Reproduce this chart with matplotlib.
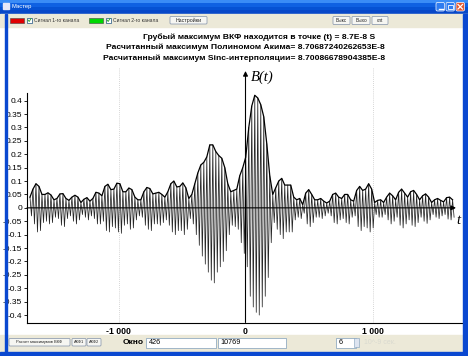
import matplotlib
matplotlib.use('Agg')
import matplotlib.pyplot as plt
from matplotlib.patches import Rectangle, FancyBboxPatch
import numpy as np

W, H, DPI = 468, 356, 100

# ---------------- data ----------------
t_start = -1697.0
t_step = 23.6
peak_hi = [0.04, 0.07, 0.09, 0.08, 0.05, 0.05, 0.056, 0.048, 0.03, 0.035,
           0.052, 0.053, 0.035, 0.028, 0.04, 0.047, 0.04, 0.02, 0.032, 0.038,
           0.025, 0.035, 0.058, 0.055, 0.045, 0.08, 0.088, 0.068, 0.07, 0.092,
           0.09, 0.06, 0.06, 0.074, 0.068, 0.04, 0.03, 0.03, 0.06, 0.076,
           0.072, 0.052, 0.055, 0.058, 0.05, 0.04, 0.06, 0.09, 0.10, 0.078,
           0.08, 0.093, 0.075, 0.035, 0.05, 0.09, 0.13, 0.16, 0.17, 0.19,
           0.235, 0.235, 0.21, 0.195, 0.185, 0.15, 0.09, 0.06, 0.065, 0.07,
           0.12, 0.15, 0.19, 0.30, 0.38, 0.42, 0.41, 0.385, 0.34, 0.24,
           0.12, 0.05, 0.075, 0.10, 0.11, 0.085, 0.085, 0.085, 0.04, 0.03,
           0.035, 0.012, 0.055, 0.068, 0.05, 0.03, 0.03, 0.035, 0.025, 0.018,
           0.025, 0.05, 0.055, 0.04, 0.035, 0.05, 0.05, 0.03, 0.025, 0.065,
           0.08, 0.065, 0.07, 0.09, 0.07, 0.02, 0.028, 0.03, 0.02, 0.04,
           0.055, 0.045, 0.03, 0.058, 0.07, 0.055, 0.04, 0.06, 0.065, 0.05,
           0.03, 0.045, 0.052, 0.04, 0.02, 0.03, 0.035, 0.028, 0.022, 0.038,
           0.04, 0.03]
peak_lo = [-0.03, -0.06, -0.09, -0.085, -0.055, -0.05, -0.06, -0.055, -0.035, -0.04,
           -0.065, -0.07, -0.04, -0.03, -0.05, -0.06, -0.045, -0.025, -0.035, -0.045,
           -0.03, -0.04, -0.06, -0.06, -0.05, -0.085, -0.09, -0.07, -0.075, -0.09,
           -0.095, -0.065, -0.06, -0.08, -0.075, -0.045, -0.03, -0.035, -0.065, -0.08,
           -0.085, -0.06, -0.06, -0.065, -0.055, -0.045, -0.065, -0.09, -0.10, -0.085,
           -0.085, -0.10, -0.08, -0.04, -0.06, -0.10, -0.14, -0.18, -0.21, -0.24,
           -0.27, -0.28, -0.24, -0.22, -0.20, -0.16, -0.10, -0.065, -0.07, -0.08,
           -0.13, -0.17, -0.22, -0.33, -0.37, -0.39, -0.40, -0.37, -0.33, -0.26,
           -0.13, -0.055, -0.08, -0.10, -0.115, -0.09, -0.09, -0.09, -0.045, -0.035,
           -0.04, -0.02, -0.06, -0.07, -0.055, -0.035, -0.035, -0.04, -0.03, -0.02,
           -0.03, -0.055, -0.06, -0.045, -0.04, -0.055, -0.06, -0.035, -0.03, -0.07,
           -0.085, -0.07, -0.075, -0.09, -0.075, -0.025, -0.035, -0.035, -0.025, -0.045,
           -0.06, -0.05, -0.035, -0.065, -0.075, -0.06, -0.045, -0.065, -0.07, -0.055,
           -0.035, -0.05, -0.058, -0.045, -0.025, -0.035, -0.04, -0.03, -0.025, -0.042,
           -0.045, -0.035]
y_ticks = [0.4, 0.35, 0.3, 0.25, 0.2, 0.15, 0.1, 0.05, 0.0,
           -0.05, -0.1, -0.15, -0.2, -0.25, -0.3, -0.35, -0.4]
y_tick_labels = ['0.4', '0.35', '0.3', '0.25', '0.2', '0.15', '0.1', '0.05', '0',
                 '-0.05', '-0.1', '-0.15', '-0.2', '-0.25', '-0.3', '-0.35', '-0.4']
x_ticks = [-1000, 0, 1000]
x_tick_labels = ['-1 000', '0', '1 000']
title_lines = ['Грубый максимум ВКФ находится в точке (t) = 8.7E-8 S',
               'Расчитанный максимум Полиномом Акима= 8.70687240262653E-8',
               'Расчитанный максимум Sinc-интерполяции= 8.70086678904385E-8']
window_title = 'Мастер'
channel_labels = ['Сигнал 1-го канала', 'Сигнал 2-го канала']
channel_colors = ['#E00000', '#00D800']
window_value = '426'
length_value = '10769'
spin_value = '6'

# ---------------- figure ----------------
plt.rcParams['font.family'] = ['Liberation Sans', 'DejaVu Sans']
fig = plt.figure(figsize=(W / DPI, H / DPI), dpi=DPI, facecolor='white')

bg = fig.add_axes([0, 0, 1, 1], zorder=0)
bg.set_xlim(0, W); bg.set_ylim(H, 0); bg.axis('off')

# title bar gradient
grad = np.array([[0.0], [0.3], [0.6], [1.0]])
bg.imshow(grad, extent=(0, W, 14, 0), aspect='auto',
          cmap=matplotlib.colors.LinearSegmentedColormap.from_list('xp', ['#3A8CF6', '#0A5CE0', '#0650D0', '#0848C8']))
bg.add_patch(Rectangle((3, 3), 6, 6, color='#E8E8F8'))
bg.text(12, 6.5, window_title, color='white', fontsize=4.2, va='center', ha='left')
for xb, col in [(436, '#2F7CF0'), (446, '#2F7CF0'), (456, '#E4572E')]:
    bg.add_patch(FancyBboxPatch((xb, 2.5), 8.5, 8.5, boxstyle='round,pad=0,rounding_size=1.5',
                                facecolor=col, edgecolor='white', lw=0.5))
bg.plot([438.5, 442.5], [9, 9], color='white', lw=1)
bg.add_patch(Rectangle((448, 4.5), 4.5, 4.5, facecolor='none', edgecolor='white', lw=0.6))
bg.plot([458, 462.5], [4.5, 9], color='white', lw=0.9)
bg.plot([458, 462.5], [9, 4.5], color='white', lw=0.9)

# toolbar
bg.add_patch(Rectangle((0, 14), W, 13, color='#ECE9D8'))
for i, (xs, xc, xt) in enumerate([(10, 27, 34), (89, 106, 113)]):
    bg.add_patch(Rectangle((xs, 18), 14, 5, facecolor=channel_colors[i], edgecolor='#444444', lw=0.4))
    bg.add_patch(Rectangle((xc, 17.5), 5, 5, facecolor='white', edgecolor='#1C5180', lw=0.5))
    bg.plot([xc + 1, xc + 2.2, xc + 4], [20, 21.5, 18.5], color='#21A121', lw=0.6)
    bg.text(xt, 20.3, channel_labels[i], fontsize=3.6, va='center', ha='left', color='#333333')


def button(x, y, w, h, label, fs=3.8):
    bg.add_patch(FancyBboxPatch((x, y), w, h, boxstyle='round,pad=0,rounding_size=1',
                                facecolor='#F6F6F2', edgecolor='#7F8FA8', lw=0.5))
    bg.text(x + w / 2, y + h / 2 + 0.2, label, fontsize=fs, va='center', ha='center', color='#222222')


button(170, 16.5, 37, 7.5, 'Настройки')
button(333, 16.5, 17, 8, 'Выкс', 3.4)
button(352, 16.5, 18, 8, 'Выхо', 3.4)
button(372, 16.5, 16, 8, 'cnt', 3.4)

# bottom panel
bg.add_patch(Rectangle((0, 335), W, 17, color='#ECE9D8'))
button(9, 338.5, 61, 7.5, 'Расчет максимумов ВКФ', 2.9)
button(72, 338.5, 14, 7.5, 'АКФ1', 2.9)
button(87, 338.5, 14, 7.5, 'АКФ2', 2.9)
bg.text(123, 342.5, 'Окно', fontsize=6, fontweight='bold', va='center', ha='left')
for x0, w0, txt in [(146, 70, window_value), (218, 68, length_value), (336, 20, spin_value)]:
    bg.add_patch(Rectangle((x0, 337.5), w0, 10, facecolor='white', edgecolor='#7F9DB9', lw=0.5))
    bg.text(x0 + 2.5, 342.7, txt, fontsize=5.2, va='center', ha='left')
bg.add_patch(Rectangle((354, 338), 5, 9, facecolor='#DDE4F0', edgecolor='#7F9DB9', lw=0.4))
bg.text(364, 342.5, '10^-9 сек.', fontsize=5, color='#DADAD0', va='center', ha='left')

# title lines
for yy, xc, line in zip([37, 47.5, 58], [259, 245.5, 244.5], title_lines):
    bg.text(xc, yy, line, fontsize=6.1, fontweight='bold', ha='center', va='center')

# ---------------- chart ----------------
def px2t(px):
    return (px - 245.5) / 127.0 * 1000.0


def py2v(py):
    return (207.85 - py) / 268.0


ax_l, ax_r, ax_t, ax_b = 27, 464, 93, 322.5
ax = fig.add_axes([ax_l / W, 1 - ax_b / H, (ax_r - ax_l) / W, (ax_b - ax_t) / H], zorder=2)
ax.patch.set_visible(False)
ax.set_xlim(px2t(ax_l), px2t(ax_r))
ax.set_ylim(py2v(ax_b), py2v(ax_t))
for s in ['top', 'right']:
    ax.spines[s].set_visible(False)
for s in ['left', 'bottom']:
    ax.spines[s].set_linewidth(0.8)

ax.set_yticks(y_ticks)
ax.set_yticklabels(y_tick_labels)
ax.tick_params(axis='y', direction='out', length=2.5, width=0.6, labelsize=6, pad=1)
ax.set_xticks(x_ticks)
ax.set_xticklabels(x_tick_labels, fontweight='bold')
ax.tick_params(axis='x', length=0, labelsize=6.3, pad=3.5)

for xv in [-1000, 1000]:
    ax.plot([xv, xv], [py2v(ax_b), py2v(68)], ls=(0, (1, 1.5)), color='#C8C8C8', lw=0.6,
            clip_on=False, zorder=1)

n = len(peak_hi)
t_hi = t_start + t_step * np.arange(n)
t_lo = t_hi + t_step / 2
sig_t = np.empty(2 * n); sig_v = np.empty(2 * n)
sig_t[0::2] = t_hi; sig_t[1::2] = t_lo
sig_v[0::2] = peak_hi; sig_v[1::2] = peak_lo
ax.plot(sig_t, sig_v, color='#262626', lw=0.55, zorder=3)
ax.plot(t_hi, peak_hi, color='black', lw=0.9, zorder=4)

# axes arrows
ax.annotate('', xy=(px2t(456), 0), xytext=(px2t(ax_l), 0),
            arrowprops=dict(arrowstyle='-|>', lw=0.8, color='black', mutation_scale=7,
                            shrinkA=0, shrinkB=0), annotation_clip=False, zorder=5)
ax.annotate('', xy=(0, py2v(71)), xytext=(0, py2v(ax_b)),
            arrowprops=dict(arrowstyle='-|>', lw=0.8, color='black', mutation_scale=7,
                            shrinkA=0, shrinkB=0), annotation_clip=False, zorder=5)
ax.text(px2t(251), py2v(77), 'B(t)', fontsize=10.5, family='Liberation Serif', style='italic',
        ha='left', va='center', clip_on=False)
ax.text(px2t(456), py2v(220), 't', fontsize=10.5, family='Liberation Serif', style='italic',
        ha='left', va='center', clip_on=False)

# foreground window borders
fg = fig.add_axes([0, 0, 1, 1], zorder=6)
fg.set_xlim(0, W); fg.set_ylim(H, 0); fg.axis('off'); fg.patch.set_visible(False)
fg.add_patch(Rectangle((4.5, 14), 2.5, H - 14, color='#0A48D0'))
fg.add_patch(Rectangle((463, 14), 5, H - 14, color='#0A48D0'))
fg.add_patch(Rectangle((0, 352), W, 4, color='#0A48D0'))

fig.savefig('out.png', dpi=DPI, facecolor='white')
